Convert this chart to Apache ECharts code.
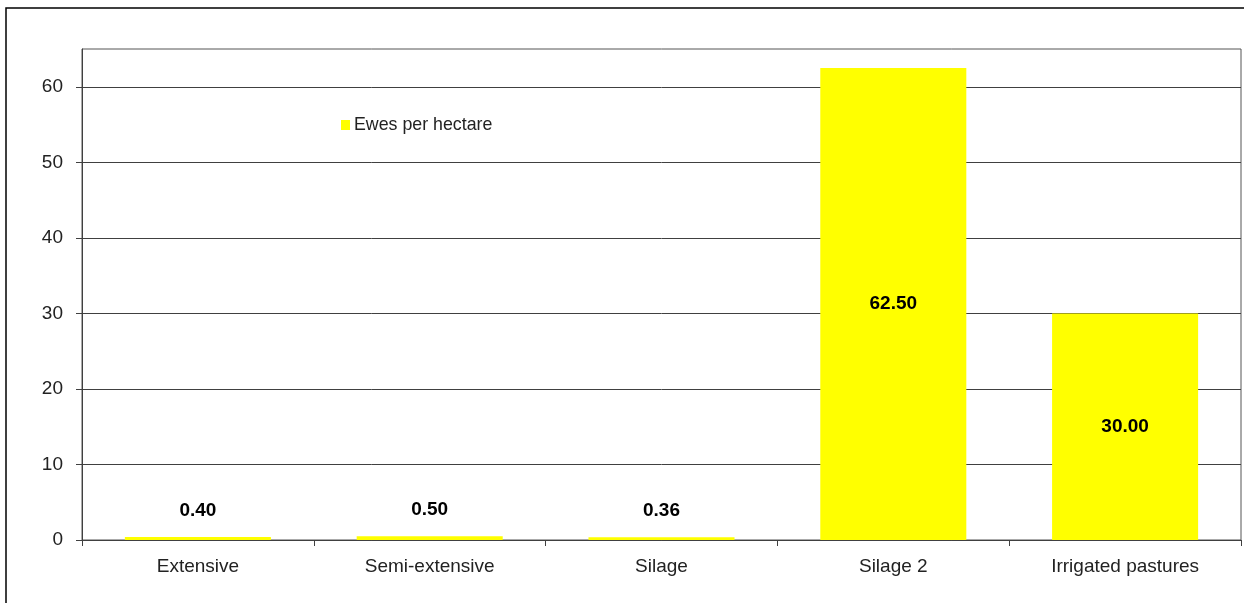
<!DOCTYPE html>
<html>
<head>
<meta charset="utf-8">
<script src="https://cdn.jsdelivr.net/npm/echarts@6/dist/echarts.min.js"></script>
<style>
  html, body { margin: 0; padding: 0; background: #fff; }
  #chart { width: 1244px; height: 603px; }
</style>
</head>
<body>
<div id="chart"></div>
<script>
// Stocking rate by production system
const categories = ['Extensive', 'Semi-extensive', 'Silage', 'Silage 2', 'Irrigated pastures'];
const ewesPerHectare = [0.40, 0.50, 0.36, 62.50, 30.00];
const yTicks = [0, 10, 20, 30, 40, 50, 60];
const seriesName = 'Ewes per hectare';

const chart = echarts.init(document.getElementById('chart'), null, { renderer: 'canvas' });

const fontFamily = 'Liberation Sans, Arial, sans-serif';

chart.setOption({
  animation: false,
  backgroundColor: '#ffffff',
  graphic: [{
    type: 'rect',
    shape: { x: 6, y: 8, width: 1260, height: 620 },
    style: { fill: 'none', stroke: '#000000', lineWidth: 1.5 },
    silent: true,
    z: 100
  }],
  legend: {
    left: 336,
    top: 111,
    itemWidth: 9,
    itemHeight: 10,
    itemGap: 4,
    icon: 'rect',
    textStyle: { fontFamily, fontSize: 17.8, color: '#222222', padding: [0, 0, 0, -1] },
    data: [seriesName]
  },
  grid: {
    left: 82,
    right: 3,
    top: 49,
    bottom: 63,
    show: true,
    borderColor: '#555555',
    borderWidth: 1,
    containLabel: false
  },
  xAxis: {
    type: 'category',
    data: categories,
    axisLine: { show: true, lineStyle: { color: '#404040', width: 1 } },
    axisTick: { show: true, alignWithLabel: false, length: 6, lineStyle: { color: '#404040' } },
    axisLabel: { fontFamily, fontSize: 19, color: '#222222', margin: 17 },
    splitLine: { show: false }
  },
  yAxis: {
    type: 'value',
    min: 0,
    max: 65,
    interval: 10,
    axisLine: { show: true, lineStyle: { color: '#404040', width: 1 } },
    axisTick: { show: true, length: 6, customValues: yTicks, lineStyle: { color: '#404040' } },
    axisLabel: { fontFamily, fontSize: 19, color: '#222222', margin: 19, customValues: yTicks },
    splitLine: { show: true, lineStyle: { color: '#404040', width: 1 } }
  },
  series: [{
    name: seriesName,
    type: 'bar',
    data: ewesPerHectare.map(v => ({
      value: v,
      label: v > 5
        ? { position: 'inside' }
        : { position: 'top', distance: 17 }
    })),
    barCategoryGap: '37%',
    itemStyle: { color: '#ffff00' },
    label: {
      show: true,
      fontFamily,
      fontSize: 19,
      fontWeight: 'bold',
      color: '#000000',
      formatter: p => p.value.toFixed(2)
    }
  }]
});
</script>
</body>
</html>
